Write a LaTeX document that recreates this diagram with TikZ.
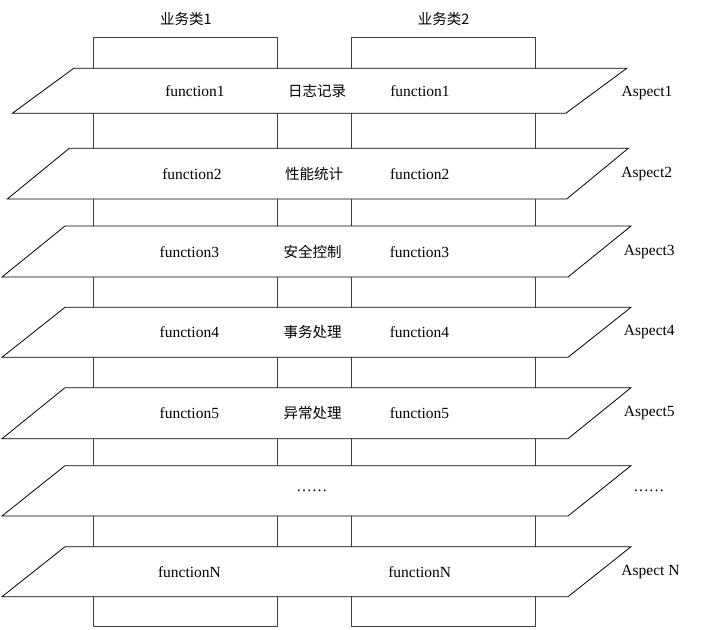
\documentclass[tikz,border=0pt]{standalone}
\usepackage{fontspec}
\setmainfont{Liberation Serif}
\newfontfamily\cjk{Noto Sans CJK SC}
\begin{document}
\begin{tikzpicture}[x=1pt,y=-1pt,
  colbox/.style={draw=black!75,line width=0.9pt},
  layer/.style={draw=black,fill=white,line width=0.8pt},
  lat/.style={font=\fontsize{15.5}{17}\selectfont,inner sep=0pt},
  zh/.style={font=\cjk\fontsize{14.5}{16}\selectfont,inner sep=0pt}]
\useasboundingbox (0,0) rectangle (703,629);
% business classes (columns)
\draw[colbox] (93.5,37.7) rectangle (277.7,626);
\draw[colbox] (351.7,37.7) rectangle (535.7,626);
\node[zh] (c1) at (186,19) {业务类1};
\node[zh] (c2) at (443.7,19) {业务类2};
% aspect layers
\draw[layer] (73.7,68.3) -- (626.7,68.3) -- (565.7,113.3) -- (12.3,113.3) -- cycle;
\draw[layer] (69.3,148.3) -- (628.3,148.3) -- (566.7,199) -- (7.3,199) -- cycle;
\draw[layer] (65,226) -- (631,226) -- (568,277) -- (2,277) -- cycle;
\draw[layer] (65,307.3) -- (631,307.3) -- (568,357.3) -- (2,357.3) -- cycle;
\draw[layer] (65,387.7) -- (631,387.7) -- (568,438.7) -- (2,438.7) -- cycle;
\draw[layer] (65,465.7) -- (631,465.7) -- (568,516) -- (2,516) -- cycle;
\draw[layer] (65,546.7) -- (631,546.7) -- (568,596.7) -- (2,596.7) -- cycle;
% row 1
\node[lat] (f1a) at (195,91) {function1};
\node[zh] (n1) at (317,91) {日志记录};
\node[lat] (f1b) at (420,91) {function1};
\node[lat] (a1) at (647,93) {Aspect1};
% row 2
\node[lat] (f2a) at (192,174) {function2};
\node[zh] (n2) at (314,174) {性能统计};
\node[lat] (f2b) at (419.7,174) {function2};
\node[lat] (a2) at (646.7,174) {Aspect2};
% row 3
\node[lat] (f3a) at (189.3,252) {function3};
\node[zh] (n3) at (312.5,252) {安全控制};
\node[lat] (f3b) at (419.5,252) {function3};
\node[lat] (a3) at (649.3,252) {Aspect3};
% row 4
\node[lat] (f4a) at (189.3,332) {function4};
\node[zh] (n4) at (312.5,332) {事务处理};
\node[lat] (f4b) at (419.5,332) {function4};
\node[lat] (a4) at (649.3,332) {Aspect4};
% row 5
\node[lat] (f5a) at (189.3,413) {function5};
\node[zh] (n5) at (312.5,413) {异常处理};
\node[lat] (f5b) at (419.5,413) {function5};
\node[lat] (a5) at (649.3,413) {Aspect5};
% row 6
\node[lat,anchor=base] (d1) at (311.8,491) {……};
\node[lat,anchor=base] (d2) at (648.8,491) {……};
% row 7
\node[lat] (fNa) at (189.5,572) {functionN};
\node[lat] (fNb) at (419.7,572) {functionN};
\node[lat] (aN) at (650.5,572) {Aspect N};
\end{tikzpicture}
\end{document}
